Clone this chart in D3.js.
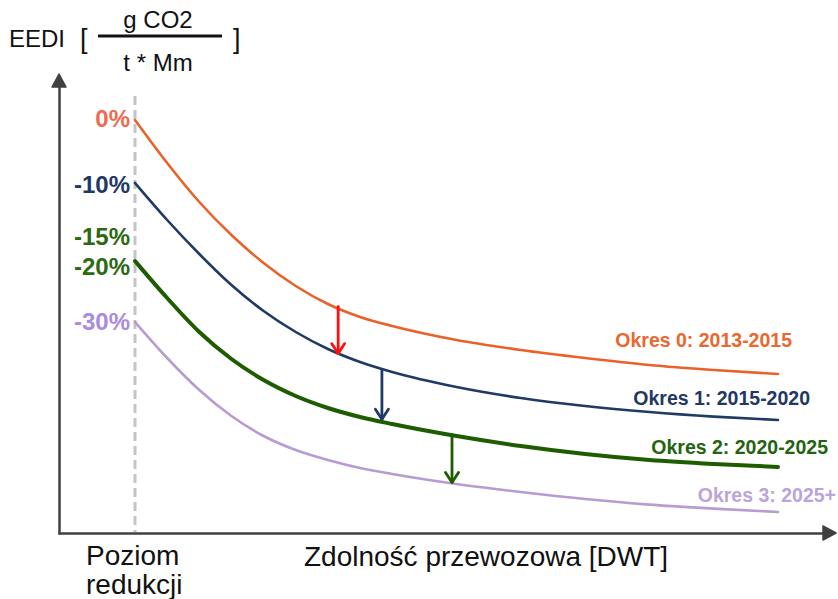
<!DOCTYPE html>
<html><head><meta charset="utf-8">
<script src="https://cdn.jsdelivr.net/npm/d3@7"></script>
<style>body{margin:0;background:#fff}svg{display:block;font-family:"Liberation Sans",Arial,sans-serif}</style>
</head><body>
<script>
// ---- data ----
const dwt = [0, 5, 10, 15, 20, 25, 30, 35, 40, 50, 60, 70, 80, 90, 100];
const okres0 = [103.25, 92.5, 82.75, 74.5, 67.5, 61.75, 57.25, 54, 51.75, 48.25, 45.75, 43.75, 42, 40.75, 39.75];
const okres1 = [87.5, 78.25, 69.75, 62, 55.5, 50.25, 46, 42.75, 40.25, 36.5, 33.75, 31.75, 30.25, 29.1, 28.25];
const okres2 = [68, 58.75, 50.25, 43.5, 38.25, 34.25, 31.25, 29, 27.25, 24.25, 21.75, 19.75, 18.25, 17.25, 16.5];
const okres3 = [52.75, 43.75, 35.75, 29.25, 24.25, 20.75, 18.25, 16.25, 14.75, 12.25, 10.25, 8.5, 7.1, 6.1, 5.25];
const seriesNames = ["Okres 0: 2013-2015", "Okres 1: 2015-2020", "Okres 2: 2020-2025", "Okres 3: 2025+"];
const reductionLabels = ["0%", "-10%", "-15%", "-20%", "-30%"];
const reductionValues = [103.5, 87, 74, 66.5, 52.75];
const arrowX = [31.6, 38.4, 49.3];
const arrowFrom = [56.6, 40.6, 24.5];
const arrowTo = [44.6, 28.2, 12.4];

// ---- styles ----
const lineColors = ["#E8622A", "#1F3A64", "#1E5C00", "#B79BD2"];
const lineWidths = [2.6, 2.6, 4, 2.6];
const labelColors = ["#E8682E", "#1F3864", "#236410", "#BBA4DA"];
const redColors = ["#F06A52", "#1F3864", "#2A6A10", "#2A6A10", "#A98BE0"];
const arrowColors = ["#FF1010", "#1F3A6A", "#1E5C00"];

const W = 838, H = 599;
const svg = d3.select("body").append("svg").attr("width", W).attr("height", H);

const x = d3.scaleLinear().domain([0, 100]).range([135, 778]);
const y = d3.scaleLinear().domain([0, 115]).range([533, 73]);

// axes (no ticks), drawn with d3 axis generators
const axisX = d3.scaleLinear().domain([0, 1]).range([58, 826]);
const axisY = d3.scaleLinear().domain([0, 1]).range([534, 84]);
const axisColor = "#404040";
svg.append("g").attr("transform", "translate(0,533)")
  .call(d3.axisBottom(axisX).tickValues([]).tickSizeOuter(0))
  .call(g => g.select(".domain").attr("stroke", axisColor).attr("stroke-width", 2.5));
svg.append("g").attr("transform", "translate(59,0)")
  .call(d3.axisLeft(axisY).tickValues([]).tickSizeOuter(0))
  .call(g => g.select(".domain").attr("stroke", axisColor).attr("stroke-width", 2.5));
// axis arrowheads
svg.append("path").attr("d", "M52,87 L59,74 L66,87 Z").attr("fill", axisColor)
  .attr("stroke", axisColor).attr("stroke-linejoin", "round").attr("stroke-width", 1.5);
svg.append("path").attr("d", "M823,526 L836,533 L823,540 Z").attr("fill", axisColor)
  .attr("stroke", axisColor).attr("stroke-linejoin", "round").attr("stroke-width", 1.5);

// dashed reference line
svg.append("line").attr("x1", x(0)).attr("x2", x(0)).attr("y1", 96).attr("y2", 532)
  .attr("stroke", "#C4C4C4").attr("stroke-width", 3).attr("stroke-dasharray", "9,5");

// curves
const allSeries = [okres0, okres1, okres2, okres3];
const line = d3.line().x(d => x(d[0])).y(d => y(d[1])).curve(d3.curveMonotoneX);
allSeries.forEach((s, i) => {
  svg.append("path").datum(dwt.map((d, j) => [d, s[j]]))
    .attr("d", line).attr("fill", "none")
    .attr("stroke", lineColors[i]).attr("stroke-width", lineWidths[i])
    .attr("stroke-linecap", "round");
});

// reduction arrows
arrowX.forEach((ax, i) => {
  const px = x(ax), y0 = y(arrowFrom[i]), y1 = y(arrowTo[i]);
  const g = svg.append("g").attr("stroke", arrowColors[i]).attr("fill", "none")
    .attr("stroke-width", 2.8).attr("stroke-linecap", "round").attr("stroke-linejoin", "round");
  g.append("line").attr("x1", px).attr("x2", px).attr("y1", y0).attr("y2", y1 - 1);
  g.append("path").attr("d", `M${px - 6.5},${y1 - 11} L${px},${y1 - 1} L${px + 6.5},${y1 - 11}`);
});

// reduction labels
reductionLabels.forEach((t, i) => {
  svg.append("text").attr("x", 130).attr("y", y(reductionValues[i]) + 8)
    .attr("text-anchor", "end").attr("font-size", 24).attr("font-weight", "bold")
    .attr("fill", redColors[i]).text(t);
});

// period labels
const labelRight = [792, 810, 828, 836];
const labelVals = [48.25, 33.75, 21.5, 9.5];
seriesNames.forEach((t, i) => {
  svg.append("text").attr("x", labelRight[i]).attr("y", y(labelVals[i]) + 7)
    .attr("text-anchor", "end").attr("font-size", 19.5).attr("font-weight", "bold")
    .attr("fill", labelColors[i]).text(t);
});

// title
const tg = svg.append("g").attr("fill", "#111").attr("font-size", 24);
tg.append("text").attr("x", 9).attr("y", 47).text("EEDI");
tg.append("text").attr("x", 80).attr("y", 48).attr("font-size", 27).text("[");
tg.append("text").attr("x", 233).attr("y", 48).attr("font-size", 27).text("]");
tg.append("text").attr("x", 158).attr("y", 28).attr("text-anchor", "middle").text("g CO2");
tg.append("text").attr("x", 158).attr("y", 71).attr("text-anchor", "middle").text("t * Mm");
svg.append("line").attr("x1", 98).attr("x2", 222).attr("y1", 36).attr("y2", 36)
  .attr("stroke", "#111").attr("stroke-width", 3);

// bottom labels
const bg = svg.append("g").attr("fill", "#111").attr("font-size", 28);
bg.append("text").attr("x", 86).attr("y", 565).text("Poziom");
bg.append("text").attr("x", 86).attr("y", 594).text("redukcji");
bg.append("text").attr("x", 304).attr("y", 566).text("Zdolność przewozowa [DWT]");
</script>
</body></html>
